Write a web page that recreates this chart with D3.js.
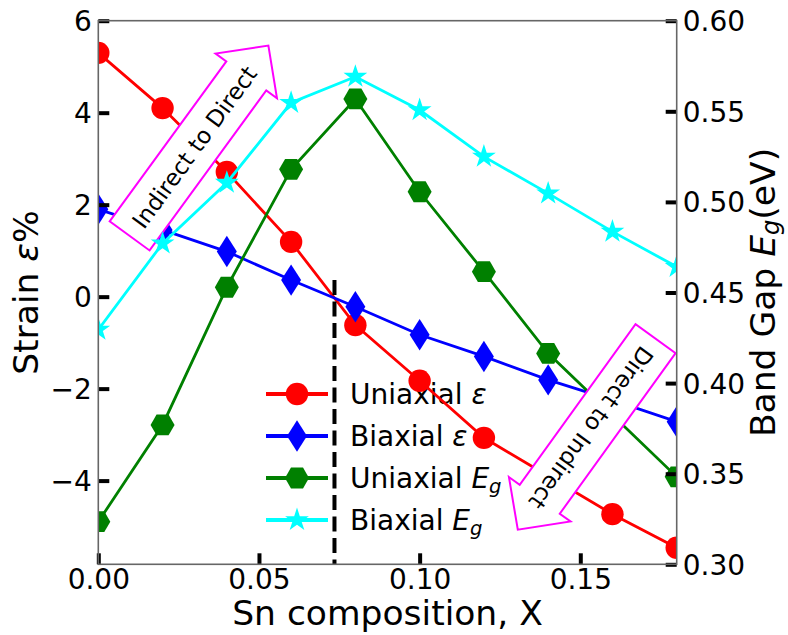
<!DOCTYPE html>
<html>
<head>
<meta charset="utf-8">
<script src="https://cdn.jsdelivr.net/npm/d3@7"></script>
<style>
    body { margin: 0; background: #fff; }
    svg { font-family: "DejaVu Sans", sans-serif; }
</style>
</head>
<body>
<div id="chart"></div>
<script>
// DATA
const snComposition = [0, 0.02, 0.04, 0.06, 0.08, 0.10, 0.12, 0.14, 0.16, 0.18];
const uniaxialStrain = [5.30, 4.10, 2.71, 1.19, -0.62, -1.83, -3.07, -3.90, -4.73, -5.46];
const biaxialStrain = [1.90, 1.45, 0.98, 0.36, -0.22, -0.83, -1.30, -1.81, -2.25, -2.72];
const uniaxialGap = [0.3235, 0.3769, 0.4529, 0.518, 0.5568, 0.5056, 0.4615, 0.4164, 0.3824, 0.3483];
const biaxialGap = [0.4295, 0.4771, 0.5106, 0.5547, 0.5691, 0.5507, 0.525, 0.5047, 0.4836, 0.4642];

const xTicks = [0, 0.05, 0.10, 0.15];
const strainTicks = [-4, -2, 0, 2, 4, 6];
const gapTicks = [0.30, 0.35, 0.40, 0.45, 0.50, 0.55, 0.60];

const transitionX = 0.0735;
const transitionTop = 0.36;

// annotation arrows: centre in data units (left axis), direction in degrees
const arrowLabels = ["Indirect to Direct", "Direct to Indirect"];
const arrowCenterX = [0.0279, 0.1554];
const arrowCenterY = [3.06, -2.66];
const arrowAngle = [-53.9, 125.8];

const width = 788;
const height = 635;
const margin = {top: 20.7, right: 111.3, bottom: 70.7, left: 98.3};
const mainWidth = width - margin.left - margin.right;
const mainHeight = height - margin.top - margin.bottom;

const tickFont = 28;
const labelFont = 34.5;
const lineWidth = 2.8;
const tickSize = 11;

const series = [
    {label: [{t: "Uniaxial "}, {t: "ε", i: true}], values: uniaxialStrain, axis: "left", color: "#ff0000", shape: "circle"},
    {label: [{t: "Biaxial "}, {t: "ε", i: true}], values: biaxialStrain, axis: "left", color: "#0000ff", shape: "diamond"},
    {label: [{t: "Uniaxial "}, {t: "E", i: true}, {t: "g", i: true, sub: true}], values: uniaxialGap, axis: "right", color: "#008000", shape: "hexagon"},
    {label: [{t: "Biaxial "}, {t: "E", i: true}, {t: "g", i: true, sub: true}], values: biaxialGap, axis: "right", color: "#00ffff", shape: "star"}
];

function markerPath(shape) {
    const p = d3.path();
    if (shape === "circle") {
        p.arc(0, 0, 11.2, 0, 2 * Math.PI);
    } else if (shape === "diamond") {
        p.moveTo(0, -15.7); p.lineTo(10, 0); p.lineTo(0, 15.7); p.lineTo(-10, 0);
    } else if (shape === "hexagon") {
        for (let k = 0; k < 6; k++) {
            const a = k * Math.PI / 3;
            const px = 12 * Math.cos(a), py = 12 * Math.sin(a);
            k === 0 ? p.moveTo(px, py) : p.lineTo(px, py);
        }
    } else {
        for (let k = 0; k < 10; k++) {
            const a = -Math.PI / 2 + k * Math.PI / 5;
            const r = k % 2 === 0 ? 12.5 : 12.5 * 0.382;
            k === 0 ? p.moveTo(r * Math.cos(a), r * Math.sin(a)) : p.lineTo(r * Math.cos(a), r * Math.sin(a));
        }
    }
    p.closePath();
    return p.toString();
}

function writeLabel(text, parts, size, subShift = 0.16) {
    parts.forEach((part, j) => {
        const span = text.append("tspan").text(part.t);
        if (part.i) span.style("font-style", "italic");
        if (part.sub) {
            span.attr("dy", size * subShift).style("font-size", (size * 0.7) + "px");
        } else if (j > 0 && parts[j - 1].sub) {
            span.attr("dy", -size * subShift);
        }
    });
}

const svg = d3.select("#chart").append("svg")
    .attr("width", width)
    .attr("height", height)
    .style("background", "#fff");

svg.append("defs").append("clipPath")
    .attr("id", "plot-clip")
    .append("rect")
    .attr("width", mainWidth)
    .attr("height", mainHeight);

const mainChart = svg.append("g")
    .attr("transform", `translate(${margin.left} ${margin.top})`);

const x = d3.scaleLinear().domain([0, 0.18]).range([0, mainWidth]);
const yLeft = d3.scaleLinear().domain([-5.82, 6]).range([mainHeight, 0]);
const yRight = d3.scaleLinear().domain([0.30, 0.60]).range([mainHeight, 0]);

// LEGEND (under the data)
const legend = mainChart.append("g");
const legendX = 266 - margin.left;
const legendY = 394 - margin.top;
series.forEach((s, i) => {
    const row = legend.append("g")
        .attr("transform", `translate(${legendX} ${legendY + i * 42})`);
    row.append("line")
        .attr("x1", 0).attr("x2", 62)
        .attr("stroke", s.color)
        .attr("stroke-width", lineWidth + 1);
    row.append("path")
        .attr("d", markerPath(s.shape))
        .attr("transform", "translate(31 0)")
        .attr("fill", s.color);
    const t = row.append("text")
        .attr("x", 84)
        .attr("dy", "0.36em")
        .style("font-size", tickFont + "px")
        .attr("fill", "#000");
    writeLabel(t, s.label, tickFont);
});

// SERIES + ARROWS
const plotLayer = mainChart.append("g");

function drawSeries(s) {
    const y = s.axis === "left" ? yLeft : yRight;
    const g = plotLayer.append("g").attr("clip-path", "url(#plot-clip)");
    g.append("path")
        .datum(s.values)
        .attr("fill", "none")
        .attr("stroke", s.color)
        .attr("stroke-width", lineWidth)
        .attr("d", d3.line().x((d, i) => x(snComposition[i])).y(d => y(d)));
    g.selectAll(".marker")
        .data(s.values)
        .join("path")
        .attr("class", "marker")
        .attr("d", markerPath(s.shape))
        .attr("transform", (d, i) => `translate(${x(snComposition[i])} ${y(d)})`)
        .attr("fill", s.color);
}

function drawArrow(k) {
    const L = 99, W = 24.7, H = 38, T = 37.5;
    const g = plotLayer.append("g")
        .attr("transform", `translate(${x(arrowCenterX[k])} ${yLeft(arrowCenterY[k])}) rotate(${arrowAngle[k]})`);
    g.append("path")
        .attr("d", `M${-L},${-W}L${L},${-W}L${L},${-H}L${L + T},0L${L},${H}L${L},${W}L${-L},${W}Z`)
        .attr("fill", "#fff")
        .attr("stroke", "#ff00ff")
        .attr("stroke-width", 2);
    g.append("text")
        .attr("x", 11)
        .attr("text-anchor", "middle")
        .attr("dy", "0.36em")
        .style("font-size", "23px")
        .text(arrowLabels[k]);
}

drawSeries(series[0]);
drawSeries(series[1]);
drawArrow(0);
drawSeries(series[2]);
drawSeries(series[3]);
drawArrow(1);

// transition marker
plotLayer.append("line")
    .attr("x1", x(transitionX)).attr("x2", x(transitionX))
    .attr("y1", yLeft(transitionTop)).attr("y2", mainHeight)
    .attr("stroke", "#000")
    .attr("stroke-width", 4)
    .attr("stroke-dasharray", "15,6.5");

// AXES
function styleAxis(g) {
    g.select(".domain").remove();
    g.selectAll(".tick line").attr("stroke", "#000").attr("stroke-width", 4);
    g.selectAll(".tick text").style("font-size", tickFont + "px").attr("fill", "#000");
    g.attr("font-family", null);
}

mainChart.append("g")
    .attr("transform", `translate(0 ${mainHeight})`)
    .call(d3.axisBottom(x).tickValues(xTicks).tickFormat(d3.format(".2f")).tickSize(-tickSize).tickPadding(5))
    .call(styleAxis);

mainChart.append("g")
    .call(d3.axisLeft(yLeft).tickValues(strainTicks).tickFormat(d3.format("d")).tickSize(-tickSize).tickPadding(6.6))
    .call(styleAxis)
    .selectAll(".tick text").attr("dy", "0.36em");

mainChart.append("g")
    .attr("transform", `translate(${mainWidth} 0)`)
    .call(d3.axisRight(yRight).tickValues(gapTicks).tickFormat(d3.format(".2f")).tickSize(-tickSize).tickPadding(6))
    .call(styleAxis)
    .selectAll(".tick text").attr("dy", "0.36em");

// spines
mainChart.append("rect")
    .attr("width", mainWidth)
    .attr("height", mainHeight)
    .attr("fill", "none")
    .attr("stroke", "#666")
    .attr("stroke-width", 1.6);

// AXIS LABELS
svg.append("text")
    .attr("x", margin.left + mainWidth / 2)
    .attr("y", 625)
    .attr("text-anchor", "middle")
    .style("font-size", labelFont + "px")
    .text("Sn composition, X");

const leftLabel = svg.append("text")
    .attr("transform", `translate(38 ${margin.top + mainHeight / 2}) rotate(-90)`)
    .attr("text-anchor", "middle")
    .style("font-size", labelFont + "px");
writeLabel(leftLabel, [{t: "Strain "}, {t: "ε", i: true}, {t: "%"}], labelFont);

const rightLabel = svg.append("text")
    .attr("transform", `translate(775 ${margin.top + mainHeight / 2}) rotate(-90)`)
    .attr("text-anchor", "middle")
    .style("font-size", labelFont + "px");
writeLabel(rightLabel, [{t: "Band Gap "}, {t: "E", i: true}, {t: "g", i: true, sub: true}, {t: "(eV)"}], labelFont, 0.12);
</script>
</body>
</html>
